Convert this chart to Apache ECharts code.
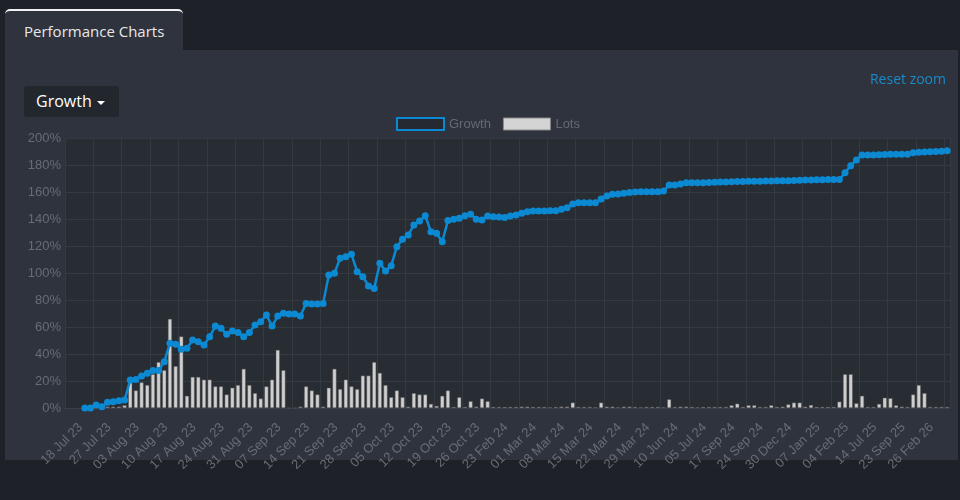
<!DOCTYPE html>
<html><head><meta charset="utf-8">
<script src="https://cdn.jsdelivr.net/npm/echarts@6/dist/echarts.min.js"></script>
<style>
html,body{margin:0;padding:0;background:#1e2128;width:960px;height:500px;overflow:hidden;font-family:"Open Sans",sans-serif;}
#panel{position:absolute;left:5px;top:50px;width:953px;height:410px;background:#2e333d;}
#chart{position:absolute;left:0;top:0;width:960px;height:500px;}
#tab{position:absolute;left:5px;top:9px;width:178px;height:41px;background:#2e333d;border-top:2px solid #eef0f2;border-radius:5px 5px 0 0;box-sizing:border-box;color:#e8e8e8;font-size:15px;line-height:40px;padding-left:19px;}
#btn{position:absolute;left:24px;top:86px;width:95px;height:31px;background:#22262d;border-radius:3px;color:#fff;font-size:16px;line-height:31px;padding-left:12px;box-sizing:border-box;}
#btn .caret{display:inline-block;width:0;height:0;border-left:4px solid transparent;border-right:4px solid transparent;border-top:4px solid #fff;margin-left:5px;vertical-align:middle;}
#reset{position:absolute;right:14px;top:69px;color:#1a8ac9;font-size:14px;}
</style></head>
<body>
<div id="panel"></div>
<div id="chart"></div>
<div id="tab">Performance Charts</div>
<div id="btn">Growth<span class="caret"></span></div>
<div id="reset">Reset zoom</div>
<script>
const tickLabels = ['18 Jul 23','27 Jul 23','03 Aug 23','10 Aug 23','17 Aug 23','24 Aug 23','31 Aug 23','07 Sep 23','14 Sep 23','21 Sep 23','28 Sep 23','05 Oct 23','12 Oct 23','19 Oct 23','26 Oct 23','23 Feb 24','01 Mar 24','08 Mar 24','15 Mar 24','22 Mar 24','29 Mar 24','10 Jun 24','05 Jul 24','17 Sep 24','24 Sep 24','30 Dec 24','07 Jan 25','04 Feb 25','14 Jul 25','23 Sep 25','26 Feb 26'];

const growth = [0,0,2.2,1,4.2,4.7,5.4,5.9,20.7,21.2,
23.7,25.7,27.7,27.7,34.3,47.9,47.2,43.5,44.2,50.4,
49.1,46.7,52.8,60.7,59,54.6,57,56,52.8,56,
61.5,63.9,68.9,60.7,68.1,70.1,69.6,69.6,68.1,77.5,
77,77,77.5,98.5,99.8,110.9,112.1,113.8,101,97.3,
90.4,88.6,107.2,101.5,105.4,119.5,125,128.1,135.6,138.5,
142.5,130.6,129.4,123.2,138.8,139.8,140.5,142.5,143.5,139.8,
139.3,142.2,141.7,141.5,141.2,142.2,143,144.2,145.4,145.9,
145.9,145.9,146.2,146.2,147.2,148.4,151.1,152.1,152.1,152.1,
152.1,154.8,157,158.3,158.5,159,159.7,160,160.2,160.2,
160.2,160.2,160.7,165.2,165.2,165.9,166.9,166.9,166.9,166.9,
167,167.2,167.4,167.5,167.6,167.7,167.8,167.9,168,168,
168.1,168.2,168.3,168.3,168.4,168.6,168.7,168.8,168.9,169,
169.1,169.2,169.2,169.3,174.3,179.5,183.7,187.4,187.4,187.5,
187.6,187.8,188,188,188,188,189,189.4,189.6,189.8,
190,190.2,190.6];

const lots = [0,0,0,0,0.01,0.01,0.01,0.02,0.21,0.13,
0.19,0.17,0.25,0.34,0.28,0.66,0.31,0.53,0.09,0.23,
0.23,0.21,0.21,0.16,0.16,0.10,0.15,0.17,0.29,0.17,
0.11,0.07,0.16,0.21,0.43,0.28,0,0,0.01,0.16,
0.13,0.10,0.01,0.15,0.29,0.14,0.21,0.16,0.14,0.24,
0.24,0.34,0.26,0.17,0.08,0.13,0.08,0.01,0.11,0.10,
0.10,0.03,0.015,0.09,0.13,0.008,0.08,0.008,0.05,0.01,
0.07,0.05,0.008,0.008,0.008,0.008,0.008,0.01,0.01,0.008,
0.008,0.008,0.006,0.008,0.01,0.01,0.04,0.008,0.008,0.008,
0.006,0.04,0.01,0.01,0.006,0.01,0.01,0.008,0.006,0.008,
0.008,0.008,0.006,0.064,0.008,0.01,0.01,0.008,0.006,0.008,
0.008,0.008,0.008,0.008,0.02,0.032,0.008,0.02,0.02,0.008,
0.008,0.02,0.008,0.01,0.027,0.04,0.04,0.01,0.022,0.008,
0.008,0.008,0.008,0.047,0.25,0.25,0.035,0.09,0.008,0.008,
0.03,0.076,0.072,0.02,0.01,0.008,0.10,0.17,0.11,0.008,
0.008,0.008,0.008];

const LABEL_STEP = 5;
const LEAD = 3; // empty slots left of first point (chart is zoomed)
const categories = [];
for (let i = 0; i < LEAD; i++) categories.push('');
for (let i = 0; i < growth.length; i++) categories.push(i % LABEL_STEP === 0 ? tickLabels[i / LABEL_STEP] : '');
const pad = Array(LEAD).fill(null);

const chart = echarts.init(document.getElementById('chart'), null, {renderer: 'canvas'});
const blue = '#0b8ad3';
const axisFont = '"Liberation Sans", Arial, sans-serif';
chart.setOption({
  animation: false,
  backgroundColor: 'transparent',
  legend: {
    left: 391, top: 112, itemWidth: 47, itemHeight: 12, itemGap: 12,
    textStyle: {color: '#666a70', fontSize: 13, fontFamily: axisFont},
    data: [
      {name: 'Growth', icon: 'rect', itemStyle: {color: '#252930', borderColor: blue, borderWidth: 2}},
      {name: 'Lots', icon: 'rect', itemStyle: {color: '#d4d4d4', borderColor: '#8a8a8a', borderWidth: 1}}
    ]
  },
  grid: {left: 65, right: 10, top: 138, bottom: 92, show: true, backgroundColor: '#282c33', borderWidth: 0},
  xAxis: {
    type: 'category', data: categories, boundaryGap: true,
    axisLine: {show: true, lineStyle: {color: '#3a3f48'}},
    axisTick: {show: false},
    axisLabel: {interval: (i, v) => v !== '', rotate: 45, color: '#686c73', fontSize: 13, fontFamily: axisFont, margin: 13, padding: [0, 6, 0, 0]},
    splitLine: {show: true, interval: (i) => i % LABEL_STEP === 0, lineStyle: {color: '#343942', width: 1}}
  },
  yAxis: [
    {type: 'value', min: 0, max: 200, interval: 20,
     axisLabel: {formatter: '{value}%', color: '#686c73', fontSize: 13, fontFamily: axisFont, margin: 4},
     axisLine: {show: false}, axisTick: {show: false},
     splitLine: {lineStyle: {color: '#343942', width: 1}}},
    {type: 'value', min: 0, max: 2, show: false, splitLine: {show: false}}
  ],
  series: [
    {name: 'Lots', type: 'bar', yAxisIndex: 1, data: pad.concat(lots), barWidth: 4,
     itemStyle: {color: '#cfcfcf', borderColor: '#555', borderWidth: 0.5}},
    {name: 'Growth', type: 'line', data: pad.concat(growth), color: blue,
     symbol: 'circle', symbolSize: 7, showAllSymbol: true, showSymbol: true,
     lineStyle: {width: 2.5, color: blue}, itemStyle: {color: blue}, z: 3}
  ]
});
</script>
</body></html>
